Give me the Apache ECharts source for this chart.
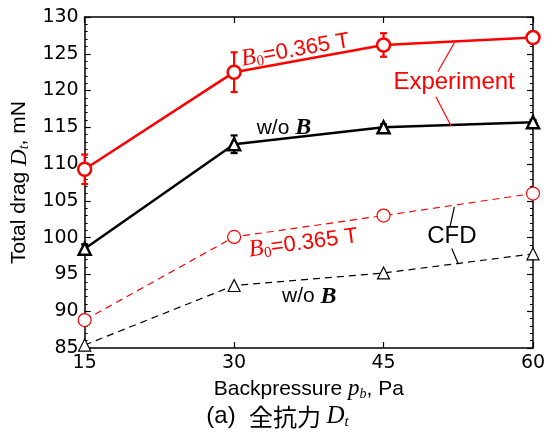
<!DOCTYPE html>
<html>
<head>
<meta charset="utf-8">
<script src="https://cdn.jsdelivr.net/npm/echarts@6/dist/echarts.min.js"></script>
<style>
  html, body { margin: 0; padding: 0; background: #fff; }
  #chart { width: 555px; height: 440px; }
</style>
</head>
<body>
<div id="chart"></div>
<script>
// Backpressure (Pa) and total drag (mN)
const pressure = [15, 30, 45, 60];
const xTicks = [15, 30, 45, 60];
const expMag = [109.3, 122.5, 126.2, 127.2];
const expMagErr = [2.0, 2.7, 1.6, 0.5];
const expNoMag = [98.5, 112.7, 115.0, 115.7];
const expNoMagErr = [0.6, 1.2, 0.4, 0.3];
const cfdMag = [88.8, 100.1, 103.0, 106.0];
const cfdNoMag = [85.4, 93.5, 95.2, 97.8];

const RED = '#ff0000';
const BLACK = '#000000';
const SANS = '"Liberation Sans", Arial, sans-serif';
const CJK = '"Noto Sans CJK JP", sans-serif';
const TICKFONT = '"DejaVu Sans", sans-serif';
const SERIF = '"Liberation Serif", "Times New Roman", serif';

function pairs(vals) { return pressure.map((p, i) => [p, vals[i]]); }
function errPairs(vals, errs) { return pressure.map((p, i) => [p, vals[i] - errs[i], vals[i] + errs[i]]); }

function errorBarSeries(vals, errs, color, width) {
  return {
    type: 'custom',
    z: 1,
    data: errPairs(vals, errs),
    renderItem: function (params, api) {
      const x = api.value(0);
      const lo = api.coord([x, api.value(1)]);
      const hi = api.coord([x, api.value(2)]);
      const cap = 3.5;
      const st = { stroke: color, lineWidth: width };
      return {
        type: 'group',
        children: [
          { type: 'line', shape: { x1: lo[0], y1: lo[1], x2: hi[0], y2: hi[1] }, style: st },
          { type: 'line', shape: { x1: lo[0] - cap, y1: lo[1], x2: lo[0] + cap, y2: lo[1] }, style: st },
          { type: 'line', shape: { x1: hi[0] - cap, y1: hi[1], x2: hi[0] + cap, y2: hi[1] }, style: st }
        ]
      };
    }
  };
}

const axisLineStyle = { color: BLACK, width: 1.5 };

const option = {
  animation: false,
  backgroundColor: '#fff',
  title: {
    text: '{p|(a)  }{a|全抗力 }{d|D}{s|t}',
    left: 'center',
    top: 398,
    textStyle: {
      fontWeight: 'normal',
      rich: {
        p: { fontFamily: SANS, fontSize: 24, fontWeight: 'normal', color: BLACK },
        a: { fontFamily: CJK, fontSize: 24, fontWeight: 'normal', color: BLACK },
        d: { fontFamily: SERIF, fontStyle: 'italic', fontWeight: 'normal', fontSize: 25, color: BLACK },
        s: { fontFamily: SERIF, fontStyle: 'italic', fontWeight: 'normal', fontSize: 15, color: BLACK, padding: [12, 0, 0, 0] }
      }
    }
  },
  grid: { left: 84, right: 22, top: 17, bottom: 92, containLabel: false },
  xAxis: [
    {
      type: 'value', position: 'bottom', min: 15, max: 60, interval: 15,
      name: '{n|Backpressure }{m|p}{s|b}{n|, Pa}',
      nameLocation: 'middle', nameGap: 27,
      nameTextStyle: {
        rich: {
          n: { fontFamily: SANS, fontSize: 21, color: BLACK },
          m: { fontFamily: SERIF, fontStyle: 'italic', fontSize: 23, color: BLACK },
          s: { fontFamily: SERIF, fontStyle: 'italic', fontSize: 14, color: BLACK, padding: [10, 0, 0, 0] }
        }
      },
      axisLine: { show: true, onZero: false, lineStyle: axisLineStyle },
      axisTick: { show: true, inside: true, length: 6, lineStyle: { color: BLACK, width: 1.2 } },
      axisLabel: {
        color: BLACK, fontFamily: TICKFONT, fontSize: 19, margin: 6,
        formatter: v => (xTicks.indexOf(v) >= 0 ? String(v) : '')
      },
      splitLine: { show: false }
    },
    {
      type: 'value', position: 'top', min: 15, max: 60, interval: 15,
      axisLine: { show: true, onZero: false, lineStyle: axisLineStyle },
      axisTick: { show: true, inside: true, length: 6, lineStyle: { color: BLACK, width: 1.2 } },
      axisLabel: { show: false },
      splitLine: { show: false }
    }
  ],
  yAxis: [
    {
      type: 'value', position: 'left', min: 85, max: 130, interval: 5,
      name: '{n|Total drag }{m|D}{s|t}{n|, mN}',
      nameLocation: 'middle', nameGap: 50, nameRotate: 90,
      nameTextStyle: {
        rich: {
          n: { fontFamily: SANS, fontSize: 21, color: BLACK },
          m: { fontFamily: SERIF, fontStyle: 'italic', fontSize: 23, color: BLACK },
          s: { fontFamily: SERIF, fontStyle: 'italic', fontSize: 14, color: BLACK, padding: [10, 0, 0, 0] }
        }
      },
      axisLine: { show: true, onZero: false, lineStyle: axisLineStyle },
      axisTick: { show: true, inside: true, length: 6, lineStyle: { color: BLACK, width: 1.2 } },
      minorTick: { show: true, splitNumber: 5, length: 3, lineStyle: { color: BLACK, width: 1 } },
      axisLabel: { color: BLACK, fontFamily: TICKFONT, fontSize: 19, margin: 6 },
      splitLine: { show: false }
    },
    {
      type: 'value', position: 'right', min: 85, max: 130, interval: 5,
      axisLine: { show: true, onZero: false, lineStyle: axisLineStyle },
      axisTick: { show: true, inside: true, length: 6, lineStyle: { color: BLACK, width: 1.2 } },
      minorTick: { show: true, splitNumber: 5, length: 3, lineStyle: { color: BLACK, width: 1 } },
      axisLabel: { show: false },
      splitLine: { show: false }
    }
  ],
  series: [
    errorBarSeries(expMag, expMagErr, RED, 2.2),
    errorBarSeries(expNoMag, expNoMagErr, BLACK, 2.2),
    {
      name: 'CFD w/o B', type: 'line', z: 2, data: pairs(cfdNoMag),
      symbol: 'triangle', symbolSize: 12,
      lineStyle: { color: BLACK, width: 1.2, type: [7, 5] },
      itemStyle: { color: '#fff', borderColor: BLACK, borderWidth: 1.2 }
    },
    {
      name: 'CFD B0', type: 'line', z: 2, data: pairs(cfdMag),
      symbol: 'circle', symbolSize: 13,
      lineStyle: { color: RED, width: 1.2, type: [7, 5] },
      itemStyle: { color: '#fff', borderColor: RED, borderWidth: 1.2 }
    },
    {
      name: 'Exp w/o B', type: 'line', z: 3, data: pairs(expNoMag),
      symbol: 'triangle', symbolSize: 12,
      lineStyle: { color: BLACK, width: 2.5 },
      itemStyle: { color: '#fff', borderColor: BLACK, borderWidth: 2.5 }
    },
    {
      name: 'Exp B0', type: 'line', z: 3, data: pairs(expMag),
      symbol: 'circle', symbolSize: 13,
      lineStyle: { color: RED, width: 2.5 },
      itemStyle: { color: '#fff', borderColor: RED, borderWidth: 2.5 }
    }
  ]
};

const chart = echarts.init(document.getElementById('chart'), null, { renderer: 'canvas' });
chart.setOption(option);

// Annotations anchored in data coordinates
function px(x, y) { return chart.convertToPixel({ gridIndex: 0 }, [x, y]); }

const magRich = {
  b: { fontFamily: SERIF, fontStyle: 'italic', fontSize: 24, fill: RED },
  s: { fontFamily: SERIF, fontSize: 15, fill: RED, padding: [10, 0, 0, 0] },
  t: { fontFamily: SANS, fontSize: 22, fill: RED }
};
const noMagRich = {
  w: { fontFamily: SANS, fontSize: 21, fill: BLACK },
  b: { fontFamily: SERIF, fontStyle: 'italic', fontWeight: 'bold', fontSize: 24, fill: BLACK }
};

function label(pos, text, rich, rotDeg, fill, font) {
  const p = px(pos[0], pos[1]);
  const style = { text: text, align: 'center', verticalAlign: 'middle', fill: fill };
  if (rich) style.rich = rich;
  if (font) style.font = font;
  return {
    type: 'text', x: p[0], y: p[1], rotation: (rotDeg || 0) * Math.PI / 180, z: 10,
    style: style
  };
}
function leader(a, b, color) {
  const p = px(a[0], a[1]), q = px(b[0], b[1]);
  return { type: 'line', z: 10, shape: { x1: p[0], y1: p[1], x2: q[0], y2: q[1] }, style: { stroke: color, lineWidth: 1.2 } };
}

chart.setOption({
  graphic: [
    label([36.15, 125.5], '{b|B}{s|0}{t|=0.365 T}', magRich, 10, RED),
    label([36.95, 99.25], '{b|B}{s|0}{t|=0.365 T}', magRich, 7.5, RED),
    label([35.0, 114.9], '{w|w/o }{b|B}', noMagRich, 0, BLACK),
    label([37.55, 92.0], '{w|w/o }{b|B}', noMagRich, 0, BLACK),
    label([52.08, 121.16], 'Experiment', null, 0, RED, '24px ' + SANS),
    label([51.85, 100.11], 'CFD', null, 0, BLACK, '24px ' + SANS),
    leader([50.45, 122.56], [52.11, 126.5], RED),
    leader([50.25, 119.16], [51.78, 115.17], RED),
    leader([52.11, 104.19], [51.68, 101.56], BLACK),
    leader([51.85, 98.53], [52.51, 96.39], BLACK)
  ]
});
</script>
</body>
</html>
